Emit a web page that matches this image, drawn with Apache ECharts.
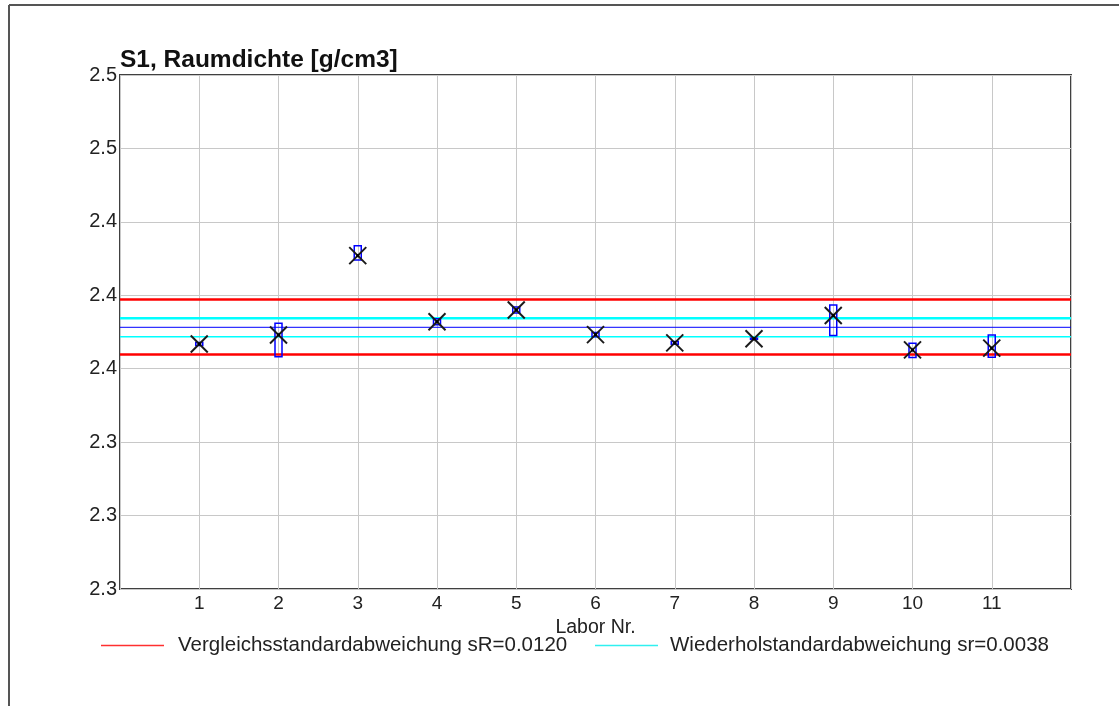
<!DOCTYPE html>
<html>
<head>
<meta charset="utf-8">
<script src="https://cdn.jsdelivr.net/npm/echarts@6/dist/echarts.min.js"></script>
<style>
html,body{margin:0;padding:0;background:#fff;}
#chart{width:1119px;height:706px;}
</style>
</head>
<body>
<div id="chart"></div>
<script>
// Data
const labs = [1, 2, 3, 4, 5, 6, 7, 8, 9, 10, 11];
const labMeans = [2.3834, 2.3865, 2.4135, 2.3910, 2.3950, 2.3866, 2.3838, 2.3852, 2.3931, 2.3814, 2.3820];
const labMins  = [2.3829, 2.3791, 2.4120, 2.3900, 2.3940, 2.3859, 2.3833, 2.3850, 2.3863, 2.3788, 2.3789];
const labMaxs  = [2.3839, 2.3905, 2.4169, 2.3920, 2.3960, 2.3873, 2.3843, 2.3854, 2.3967, 2.3837, 2.3865];
const overallMean = 2.3891;
const sRLimits = [2.3798, 2.3986];
const srLimits = [2.3859, 2.3922];
const yTickValues = [2.300, 2.325, 2.350, 2.375, 2.400, 2.425, 2.450, 2.475];
const yTickLabels = ['2.3', '2.3', '2.3', '2.4', '2.4', '2.4', '2.5', '2.5'];
const xRange = [0, 12];
const sRName = 'Vergleichsstandardabweichung sR=0.0120';
const srName = 'Wiederholstandardabweichung sr=0.0038';
const titleText = 'S1, Raumdichte [g/cm3]';
const xAxisName = 'Labor Nr.';

const FONT = '"Liberation Sans", Arial, sans-serif';

function hLine(v) { return [[xRange[0], v], [xRange[1], v]]; }

const markerData = labs.map((l, i) => [l, labMeans[i], labMins[i], labMaxs[i]]);

const chart = echarts.init(document.getElementById('chart'), null, {renderer: 'canvas'});
chart.setOption({
  animation: false,
  backgroundColor: '#ffffff',
  title: {
    text: titleText, left: 120, top: 48, padding: 0,
    textStyle: {fontFamily: FONT, fontSize: 24.5, fontWeight: 'bold', color: '#111'}
  },
  grid: {
    left: 120, right: 48, top: 75, bottom: 117,
    show: true, borderColor: '#404040', borderWidth: 2, backgroundColor: 'transparent'
  },
  legend: [
    {
      data: [sRName], left: 101, top: 635, padding: 0,
      icon: 'rect', itemWidth: 63, itemHeight: 1.5,
      textStyle: {fontFamily: FONT, fontSize: 20.5, color: '#222', padding: [0, 0, 0, 9]}
    },
    {
      data: [srName], left: 595, top: 635, padding: 0,
      icon: 'rect', itemWidth: 63, itemHeight: 1.5,
      textStyle: {fontFamily: FONT, fontSize: 20.5, color: '#222', padding: [0, 0, 0, 7]}
    }
  ],
  xAxis: {
    type: 'value', min: xRange[0], max: xRange[1], interval: 1,
    name: xAxisName, nameLocation: 'middle', nameGap: 27,
    nameTextStyle: {fontFamily: FONT, fontSize: 19.5, color: '#222'},
    axisLine: {show: false}, axisTick: {show: false},
    axisLabel: {
      fontFamily: FONT, fontSize: 19, color: '#222', margin: 5,
      formatter: v => labs.indexOf(Math.round(v)) >= 0 && Math.abs(v - Math.round(v)) < 1e-6 ? String(Math.round(v)) : ''
    },
    splitLine: {show: true, lineStyle: {color: '#c8c8c8', width: 1}}
  },
  yAxis: {
    type: 'value', min: yTickValues[0], max: yTickValues[yTickValues.length - 1], interval: 0.025,
    axisLine: {show: false}, axisTick: {show: false},
    axisLabel: {
      fontFamily: FONT, fontSize: 20, color: '#222', margin: 3,
      formatter: v => {
        let best = 0, d = Infinity;
        yTickValues.forEach((t, i) => { if (Math.abs(t - v) < d) { d = Math.abs(t - v); best = i; } });
        return yTickLabels[best];
      }
    },
    splitLine: {show: true, lineStyle: {color: '#c8c8c8', width: 1}}
  },
  series: [
    {
      name: sRName, type: 'line', data: hLine(sRLimits[0]), symbol: 'none',
      lineStyle: {color: '#ff0000', width: 2.5}, itemStyle: {color: '#ff3030'}, z: 3
    },
    {
      name: sRName, type: 'line', data: hLine(sRLimits[1]), symbol: 'none',
      lineStyle: {color: '#ff0000', width: 2.5}, itemStyle: {color: '#ff3030'}, z: 3
    },
    {
      name: srName, type: 'line', data: hLine(srLimits[0]), symbol: 'none',
      lineStyle: {color: '#00ffff', width: 1.5}, itemStyle: {color: '#30f0f0'}, z: 3
    },
    {
      name: srName, type: 'line', data: hLine(srLimits[1]), symbol: 'none',
      lineStyle: {color: '#00ffff', width: 2.5}, itemStyle: {color: '#30f0f0'}, z: 3
    },
    {
      name: 'Mittelwert', type: 'line', data: hLine(overallMean), symbol: 'none',
      lineStyle: {color: '#0000ff', width: 1}, z: 3
    },
    {
      name: 'Labore', type: 'custom', z: 5,
      data: markerData,
      renderItem: function (params, api) {
        const x = api.value(0);
        const p = api.coord([x, api.value(1)]);
        const lo = api.coord([x, api.value(2)]);
        const hi = api.coord([x, api.value(3)]);
        const h = 8.5;
        const top = Math.min(lo[1], hi[1]);
        const ht = Math.abs(lo[1] - hi[1]);
        return {
          type: 'group',
          children: [
            {type: 'rect', shape: {x: p[0] - 3.5, y: top, width: 7, height: Math.max(ht, 1)},
             style: {stroke: '#0000ff', fill: null, lineWidth: 1.5}},
            {type: 'line', shape: {x1: p[0] - h, y1: p[1] - h, x2: p[0] + h, y2: p[1] + h},
             style: {stroke: '#1a1a1a', lineWidth: 2}},
            {type: 'line', shape: {x1: p[0] - h, y1: p[1] + h, x2: p[0] + h, y2: p[1] - h},
             style: {stroke: '#1a1a1a', lineWidth: 2}},
            {type: 'rect', shape: {x: p[0] - 1.5, y: p[1] - 1.5, width: 3, height: 3},
             style: {fill: '#000'}}
          ]
        };
      }
    }
  ],
  graphic: [
    {type: 'line', shape: {x1: 9, y1: 5, x2: 1119, y2: 5}, style: {stroke: '#555', lineWidth: 2}, silent: true},
    {type: 'line', shape: {x1: 9, y1: 5, x2: 9, y2: 706}, style: {stroke: '#555', lineWidth: 2}, silent: true}
  ]
});
</script>
</body>
</html>
